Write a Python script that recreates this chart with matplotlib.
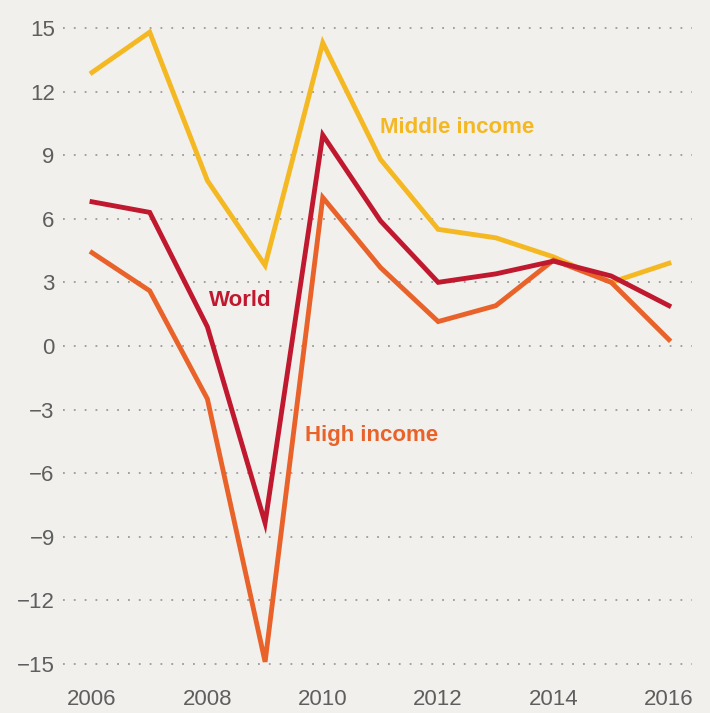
import matplotlib
matplotlib.use("Agg")
import matplotlib.pyplot as plt
from matplotlib import font_manager

years = [2006, 2007, 2008, 2009, 2010, 2011, 2012, 2013, 2014, 2015, 2016]
middle_income = [12.9, 14.8, 7.8, 3.8, 14.3, 8.8, 5.5, 5.1, 4.2, 3.0, 3.9]
world = [6.8, 6.3, 0.9, -8.35, 9.95, 5.9, 3.0, 3.4, 4.0, 3.3, 1.9]
high_income = [4.4, 2.6, -2.5, -14.9, 7.0, 3.7, 1.15, 1.9, 4.05, 3.0, 0.3]
y_ticks = [15, 12, 9, 6, 3, 0, -3, -6, -9, -12, -15]
x_ticks = [2006, 2008, 2010, 2012, 2014, 2016]

names = {f.name for f in font_manager.fontManager.ttflist}
fam = ["Liberation Sans Narrow", "DejaVu Sans"] if "Liberation Sans Narrow" in names else ["Liberation Sans", "DejaVu Sans"]
plt.rcParams["font.family"] = fam

bg = "#f1f0ec"
c_mid = "#f4b823"
c_world = "#c0192f"
c_high = "#e8622a"
c_text = "#5e5e5e"

fig = plt.figure(figsize=(7.10, 7.13), dpi=100, facecolor=bg)
ax = fig.add_axes([63 / 710, 38 / 713, 629 / 710, 660 / 713])
ax.set_facecolor(bg)
ax.set_xlim(2005.497, 2016.4)
ax.set_ylim(-15.52, 15.61)

for v in y_ticks:
    ax.axhline(v, color="#9a9a9a", lw=1.3, linestyle=(0, (1, 5)), zorder=1)

ax.plot(years, middle_income, color=c_mid, lw=3.5, solid_joinstyle="miter", zorder=3)
ax.plot(years, high_income, color=c_high, lw=3.5, solid_joinstyle="miter", zorder=3)
ax.plot(years, world, color=c_world, lw=3.5, solid_joinstyle="miter", zorder=4)

ax.text(2011.0, 10.3, "Middle income", color=c_mid, fontsize=16, fontweight="bold", ha="left", va="center")
ax.text(2008.02, 2.15, "World", color=c_world, fontsize=16, fontweight="bold", ha="left", va="center")
ax.text(2009.7, -4.2, "High income", color=c_high, fontsize=16, fontweight="bold", ha="left", va="center")

for s in ax.spines.values():
    s.set_visible(False)
ax.set_yticks(y_ticks)
ax.set_yticklabels([str(v).replace("-", "\u2212") for v in y_ticks])
ax.set_xticks(x_ticks)
ax.set_xticklabels([str(v) for v in x_ticks])
ax.tick_params(axis="y", length=0, pad=6, labelsize=16, labelcolor=c_text)
ax.tick_params(axis="x", length=0, pad=10, labelsize=16, labelcolor=c_text)

fig.savefig("out.png", dpi=100, facecolor=bg)
